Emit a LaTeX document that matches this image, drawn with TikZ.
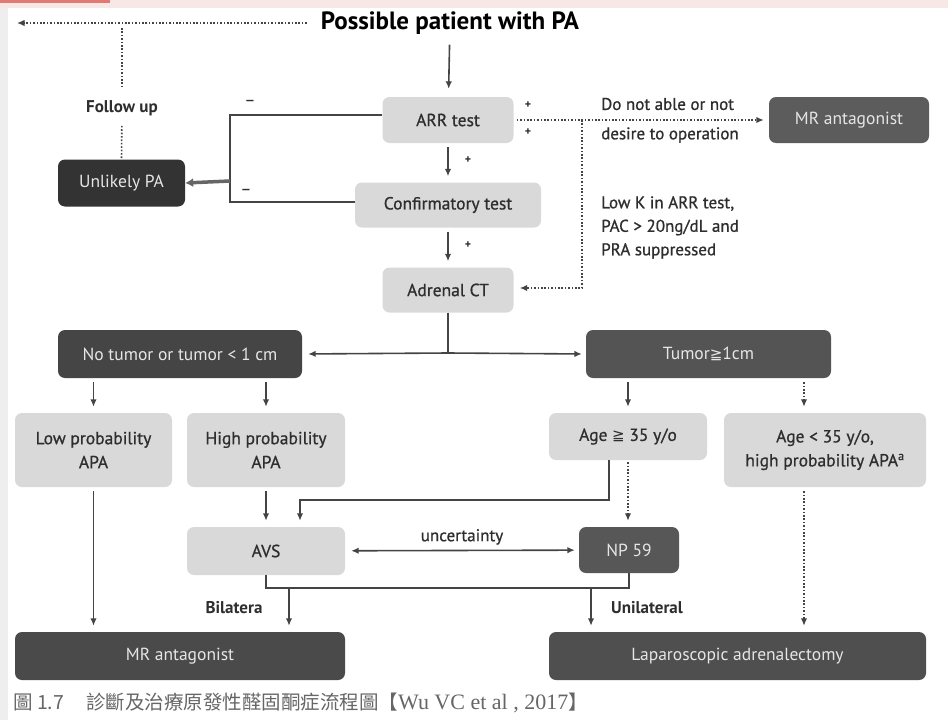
\documentclass[tikz,border=0pt]{standalone}
\usepackage{fontspec}
\setmainfont{PT Sans}
\newfontfamily\medsans[FakeBold=0.8]{PT Sans}
\newfontfamily\cjk{Noto Sans CJK TC}
\newfontfamily\capserif{Liberation Serif}
\usetikzlibrary{arrows.meta,calc}
\definecolor{lightbox}{HTML}{D9D9D9}
\definecolor{txtdark}{HTML}{2E2E2E}
\definecolor{txtlight}{HTML}{E6E6E6}
\definecolor{linec}{HTML}{444444}
\definecolor{pinkband}{HTML}{F7E7E5}
\definecolor{redstrip}{HTML}{E07A72}
\definecolor{leftstrip}{HTML}{EEEEEE}
\definecolor{captc}{HTML}{666666}
\begin{document}
\begin{tikzpicture}[x=1pt,y=-1pt,
  lbox/.style={rectangle, rounded corners=7pt, fill=lightbox, text=txtdark,
    font=\medsans\fontsize{17.5}{24}\selectfont, inner sep=2pt, align=center},
  dbox/.style={rectangle, rounded corners=7pt, fill=#1, text=txtlight,
    font=\fontsize{17.5}{21}\selectfont, inner sep=2pt, align=center},
  ln/.style={draw=linec, line width=1.6pt},
  tip/.style={-{Latex[length=7.5pt,width=6.5pt]}},
  arr/.style={ln, tip, shorten <=4pt, shorten >=6pt},
  dotln/.style={draw=linec, line width=1.6pt, dash pattern=on 1.6pt off 1.8pt},
  dotarr/.style={dotln, tip, shorten <=4pt, shorten >=6pt},
  lbl/.style={text=txtdark, font=\medsans\fontsize{17}{21}\selectfont, inner sep=0pt},
  blbl/.style={text=txtdark, font=\fontsize{17}{21}\selectfont\bfseries, inner sep=0pt},
  pmark/.style={text=txtdark, font=\fontsize{12}{14}\selectfont\bfseries, inner sep=0pt}
]
\useasboundingbox (0,0) rectangle (948,720);
\fill[white] (0,0) rectangle (948,720);
\fill[pinkband] (0,0) rectangle (948,8);
\fill[redstrip] (0,0) rectangle (110,3);
\fill[leftstrip] (0,8) rectangle (8,720);

% title
\node[font=\fontsize{25}{28}\selectfont\bfseries, text=black, inner sep=2pt] (title) at (450,23) {Possible patient with PA};

% boxes
\node[lbox, minimum width=131pt, minimum height=46pt] (arr) at (448,120) {ARR test};
\node[lbox, minimum width=186pt, minimum height=45pt] (conf) at (448,205) {Confirmatory test};
\node[lbox, minimum width=131pt, minimum height=45pt] (ct) at (448,290) {Adrenal CT};
\node[dbox=black!80, minimum width=127pt, minimum height=47pt] (unl) at (121.5,183) {Unlikely PA};
\node[dbox=black!64, minimum width=160pt, minimum height=46pt] (mr1) at (849,120) {MR antagonist};
\node[dbox=black!73, minimum width=244pt, minimum height=48pt] (notum) at (180,354) {No tumor or tumor {<} 1 cm};
\node[dbox=black!67, minimum width=245pt, minimum height=48pt] (tum) at (708.5,354) {Tumor{\fontspec{DejaVu Sans}\fontsize{15}{18}\selectfont≧}1cm};
\node[lbox, minimum width=157pt, minimum height=74pt] (lowp) at (93.5,450) {Low probability\\APA};
\node[lbox, minimum width=158pt, minimum height=74pt] (highp) at (266,450) {High probability\\APA};
\node[lbox, minimum width=158pt, minimum height=47pt] (age1) at (628,436.5) {Age {\fontspec{DejaVu Sans}\fontsize{15}{18}\selectfont≧} 35 y/o};
\node[lbox, minimum width=202pt, minimum height=74pt] (age2) at (825,450) {Age {<} 35 y/o,\\high probability APA\textsuperscript{a}};
\node[lbox, minimum width=158pt, minimum height=48pt] (avs) at (266,551) {AVS};
\node[dbox=black!66, minimum width=100pt, minimum height=46pt] (np) at (629,550) {NP 59};
\node[dbox=black!71, minimum width=330pt, minimum height=48pt] (mr2) at (180,656) {MR antagonist};
\node[dbox=black!69, minimum width=377pt, minimum height=48pt] (lap) at (737.5,656) {Laparoscopic adrenalectomy};

% top flow
\draw[arr, shorten <=8pt, shorten >=8pt] (title) -- (arr);
\draw[arr] (arr) -- (conf);
\node[pmark] (p1) at (468,160) {+};
\draw[arr] (conf) -- (ct);
\node[pmark] (p2) at (468,245) {+};

% negative branch to Unlikely PA
\coordinate (jl) at (230,181);
\draw[ln] ([yshift=5pt]arr.west) -| (jl) |- ([yshift=3pt]conf.west);
\draw[draw=black!60, line width=3.5pt, -{Latex[length=8pt,width=9pt]}] (jl) -- (unl.east);
\node[pmark] (m1) at (250,102) {—};
\node[pmark] (m2) at (246,191) {—};

% follow up
\coordinate (ftip) at (17,23);
\coordinate (fl) at (122,23);
\draw[dotln, tip, shorten <=12pt] (title.west) -- (ftip);
\node[blbl] (fu) at (122,108) {Follow up};
\draw[dotln, shorten <=5pt, shorten >=14pt] (fl) -- (fu);
\draw[dotln, shorten <=10pt] (fu) -- (unl.north);

% positive branch
\draw[dotln, tip, shorten <=3pt, shorten >=5pt] (arr.east) -- (mr1.west);
\node[pmark] (p3) at (528,105) {+};
\node[pmark] (p4) at (528,132) {+};
\coordinate (jr) at (582,120);
\draw[dotln, tip, shorten >=6pt] (jr) |- ([yshift=2pt]ct.east);
\node[lbl, anchor=west] (t1) at (601,104) {Do not able or not};
\node[lbl, anchor=west] (t2) at (601,135) {desire to operation};
\node[lbl, anchor=north west, align=left, font=\medsans\fontsize{17}{23.5}\selectfont] (t3) at (601,196) {Low K in ARR test,\\PAC {>} 20ng/dL and\\PRA suppressed};

% CT split
\coordinate (jc) at (448,353);
\draw[ln] (ct.south) -- (jc);
\draw[ln, tip, shorten >=6pt] (jc) -- (notum.east);
\draw[ln, tip, shorten >=4pt] (jc) -- (tum.west);

% second level
\draw[arr] (lowp.north |- notum.south) -- (lowp.north);
\draw[arr] (highp.north |- notum.south) -- (highp.north);
\draw[arr] (age1.north |- tum.south) -- (age1.north);
\draw[dotarr] ([xshift=-21pt]age2.north |- tum.south) -- ([xshift=-21pt]age2.north);

% third level
\draw[arr] (highp) -- (avs);
\coordinate (ja) at (300,500);
\draw[ln, tip, shorten >=6pt] ([xshift=-19pt]age1.south) |- (ja) -- (ja |- avs.north);
\draw[dotarr, shorten <=2pt] (age1.south) -- (age1.south |- np.north);
\draw[ln, {Latex[length=7.5pt,width=6.5pt]}-{Latex[length=7.5pt,width=6.5pt]}, shorten <=6pt, shorten >=4pt] (avs) -- node[lbl, above=5pt] (unc) {uncertainty} (np);

% bottom
\coordinate (br) at (629,588);
\draw[ln] (avs.south) |- (br) -- (np.south);
\coordinate (bb) at (289,588);
\coordinate (bu) at (591,588);
\draw[ln, tip, shorten >=6pt] (bb) -- (bb |- mr2.north);
\draw[ln, tip, shorten >=6pt] (bu) -- (bu |- lap.north);
\node[blbl] (bil) at (234,608) {Bilatera};
\node[blbl] (uni) at (647,608) {Unilateral};
\draw[arr] (lowp.south) -- (lowp.south |- mr2.north);
\draw[dotarr] ([xshift=-21pt]age2.south) -- ([xshift=-21pt]age2.south |- lap.north);

% caption
\node[anchor=west, text=captc, inner sep=0pt, font=\fontsize{19.5}{22}\selectfont] (cap) at (13,703) {\cjk 圖 1.7\hspace{22pt}診斷及治療原發性醛固酮症流程圖【{\capserif\fontsize{22}{24}\selectfont Wu VC et al , 2017}】};
\end{tikzpicture}
\end{document}
